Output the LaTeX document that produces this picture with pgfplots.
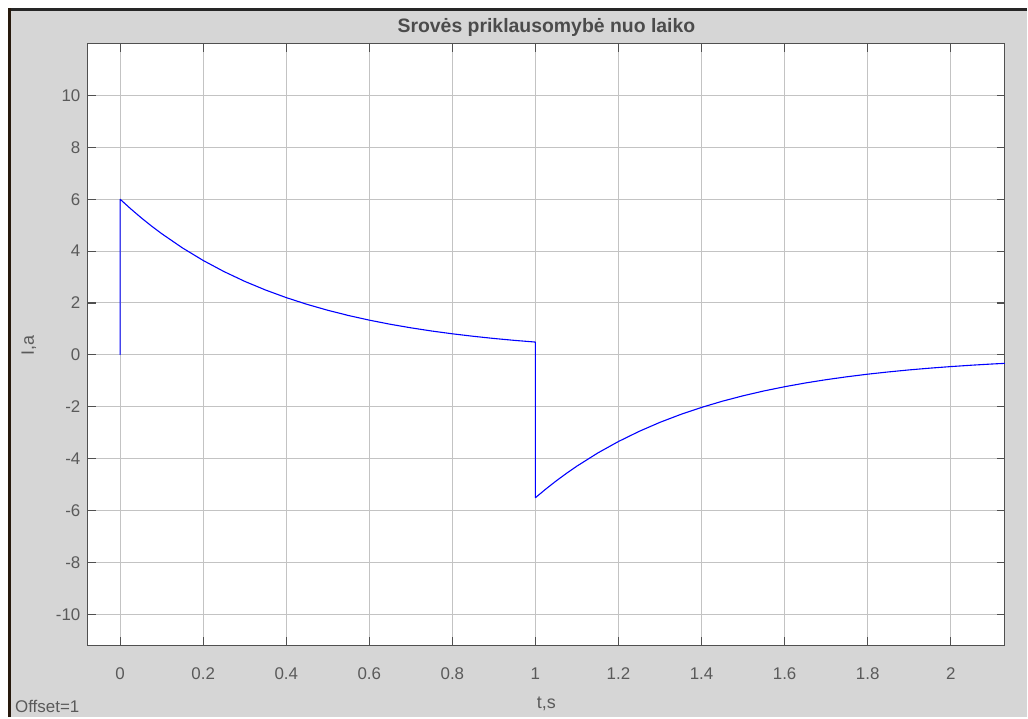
\documentclass[border=0pt]{standalone}
\usepackage{pgfplots}
\pgfplotsset{compat=1.18}
\usepackage{fontspec}
\setmainfont{Liberation Sans}
\definecolor{bggray}{RGB}{214,214,214}
\definecolor{axgray}{RGB}{80,80,80}
\definecolor{gridgray}{RGB}{195,195,195}
\definecolor{txtgray}{RGB}{90,90,90}
\definecolor{ttlgray}{RGB}{75,75,75}
\begin{document}
\begin{tikzpicture}[x=1bp,y=1bp]
\fill[white] (0,0) rectangle (1028,718);
\fill[bggray] (10,0) rectangle (1028,708);
\draw[line width=2.2bp,black!85] (10,708.5) -- (1028,708.5);
\draw[line width=2.2bp,black!80!brown] (9.5,0) -- (9.5,709.5);
\begin{axis}[
  at={(88bp,72bp)}, anchor=south west,
  scale only axis, width=918bp, height=602bp,
  xmin=-0.0777, xmax=2.1306, ymin=-11.2, ymax=11.99,
  xtick={0,0.2,...,2.01}, ytick={-10,-8,...,10},
  xticklabels={0,0.2,0.4,0.6,0.8,1,1.2,1.4,1.6,1.8,2},
  yticklabels={-10,-8,-6,-4,-2,0,2,4,6,8,10},
  tick align=inside, major tick length=8bp,
  xtick pos=both, ytick pos=both,
  axis background/.style={fill=white},
  axis line style={axgray, line width=1.1bp},
  tick style={axgray, line width=1.1bp},
  grid=major, major grid style={gridgray, line width=1bp},
  ticklabel style={font=\fontsize{17}{20}\selectfont, text=txtgray},
  xticklabel style={yshift=-19bp},
  yticklabel style={xshift=-4bp},
  title={\textbf{Srovės priklausomybė nuo laiko}},
  title style={at={(0.5,1)}, anchor=center, yshift=10bp, font=\fontsize{19.5}{22}\selectfont, text=ttlgray},
  xlabel={t,s},
  xlabel style={at={(0.5,0)}, anchor=center, yshift=-59bp, font=\fontsize{18}{21}\selectfont, text=txtgray},
  clip=true,
]
\addplot[blue, line width=1.1bp, line join=round] coordinates {
(0,0) (0,6) (0.025,5.637) (0.05,5.295) (0.075,4.974) (0.1,4.673) (0.15,4.124) (0.2,3.639) (0.25,3.212)
(0.3,2.834) (0.35,2.501) (0.4,2.207) (0.45,1.948) (0.5,1.719) (0.55,1.517)
(0.6,1.339) (0.65,1.181) (0.7,1.043) (0.75,0.920) (0.8,0.812) (0.85,0.717)
(0.9,0.632) (0.95,0.558) (1.0,0.493)
(1.0,-5.507) (1.025,-5.174) (1.05,-4.860) (1.075,-4.566) (1.1,-4.289) (1.15,-3.785) (1.2,-3.340)
(1.25,-2.948) (1.3,-2.601) (1.35,-2.296) (1.4,-2.026) (1.45,-1.788)
(1.5,-1.578) (1.55,-1.392) (1.6,-1.229) (1.65,-1.084) (1.7,-0.957)
(1.75,-0.845) (1.8,-0.745) (1.85,-0.658) (1.9,-0.580) (1.95,-0.512)
(2.0,-0.452) (2.05,-0.399) (2.1,-0.352) (2.15,-0.311)
};
\end{axis}
\node[rotate=90, font=\fontsize{18}{21}\selectfont, text=txtgray] at (29,372) {I,a};
\node[anchor=west, font=\fontsize{17}{20}\selectfont, text=txtgray, inner sep=0pt] at (15,11) {Offset=1};
\end{tikzpicture}
\end{document}
